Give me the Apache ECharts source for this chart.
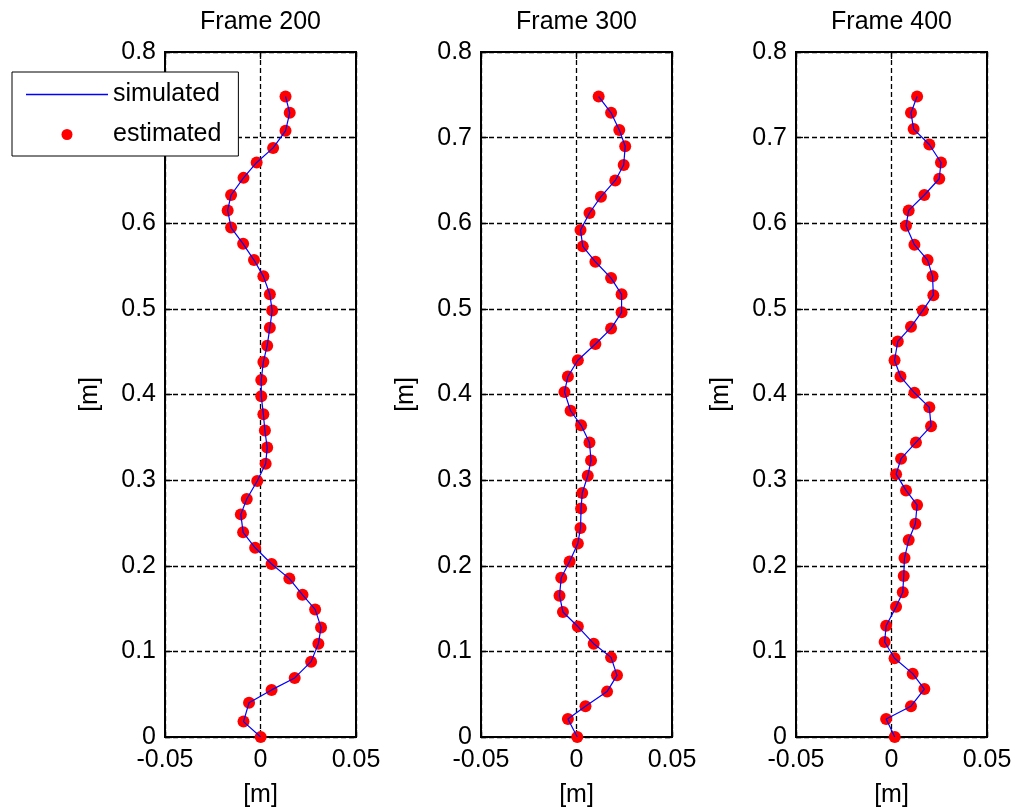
<!DOCTYPE html>
<html>
<head>
<meta charset="utf-8">
<script src="https://cdn.jsdelivr.net/npm/echarts@6/dist/echarts.min.js"></script>
<style>
html,body{margin:0;padding:0;background:#fff;}
#chart{width:1015px;height:808px;}
</style>
</head>
<body>
<div id="chart"></div>
<script>
const frameTitles = ['Frame 200', 'Frame 300', 'Frame 400'];
const seriesNames = ['simulated', 'estimated'];
const axisUnit = '[m]';

const f200x = [0.0131,0.0153,0.0131,0.0066,-0.002,-0.0089,-0.0154,-0.0172,-0.0154,-0.0091,-0.0034,0.0015,0.0049,0.0061,0.0049,0.0035,0.0015,0.0004,0.0004,0.0015,0.0023,0.0035,0.0027,-0.0017,-0.0072,-0.0103,-0.0091,-0.0028,0.0058,0.0151,0.022,0.0286,0.0317,0.0303,0.0265,0.0179,0.0058,-0.006,-0.0089,0.0001];
const f200y = [0.748,0.729,0.708,0.688,0.671,0.653,0.633,0.615,0.595,0.576,0.557,0.538,0.517,0.498,0.478,0.457,0.438,0.417,0.398,0.377,0.358,0.338,0.319,0.299,0.278,0.260,0.239,0.221,0.202,0.185,0.166,0.149,0.128,0.109,0.088,0.069,0.055,0.040,0.018,0.000];

const f300x = [0.0116,0.0181,0.0224,0.0255,0.0247,0.0203,0.0128,0.0068,0.0021,0.0033,0.0099,0.0181,0.0236,0.0236,0.0181,0.0099,0.0007,-0.0045,-0.0063,-0.0031,0.0024,0.0068,0.0076,0.0059,0.003,0.0024,0.0021,0.0007,-0.0036,-0.008,-0.0089,-0.0071,0.0007,0.009,0.0181,0.0212,0.016,0.0047,-0.0045,0.0004];
const f300y = [0.748,0.729,0.709,0.690,0.668,0.650,0.631,0.612,0.592,0.573,0.555,0.536,0.517,0.496,0.477,0.459,0.440,0.421,0.403,0.381,0.364,0.344,0.323,0.305,0.285,0.267,0.244,0.226,0.205,0.186,0.165,0.146,0.129,0.109,0.093,0.072,0.053,0.036,0.021,0.000];

const f400x = [0.0134,0.0102,0.0116,0.0198,0.0259,0.025,0.0172,0.009,0.0076,0.012,0.0189,0.0215,0.0219,0.0163,0.0102,0.0033,0.0016,0.0047,0.012,0.0198,0.0207,0.0128,0.005,0.0024,0.0076,0.0134,0.0125,0.009,0.0068,0.0064,0.0059,0.0024,-0.0028,-0.0036,0.0016,0.0111,0.0172,0.0102,-0.0028,0.0017];
const f400y = [0.748,0.729,0.710,0.692,0.671,0.652,0.633,0.615,0.597,0.575,0.557,0.538,0.516,0.498,0.479,0.462,0.440,0.421,0.402,0.385,0.363,0.344,0.325,0.307,0.288,0.271,0.249,0.230,0.209,0.188,0.169,0.152,0.130,0.111,0.092,0.074,0.056,0.036,0.021,0.000];

const xTicks = [-0.05, 0, 0.05];
const yTicks = [0, 0.1, 0.2, 0.3, 0.4, 0.5, 0.6, 0.7, 0.8];

const frames = [[f200x, f200y], [f300x, f300y], [f400x, f400y]];

const FONT = "'Liberation Sans', Arial, sans-serif";
const FS = 25;
const gridLefts = [165, 481, 796];
const gridW = 191, gridTop = 52, gridH = 685;
const TICK = {show: true, inside: true, length: 7, lineStyle: {color: '#000', width: 1.3}};
const DASH = {show: true, lineStyle: {color: '#000', type: [5, 3], width: 1.3}};

const grids = [], xAxes = [], yAxes = [], series = [], titles = [];
frames.forEach((fr, i) => {
  grids.push({left: gridLefts[i], top: gridTop, width: gridW, height: gridH,
    outerBoundsMode: 'none', containLabel: false,
    show: true, borderColor: '#000', borderWidth: 2, backgroundColor: '#fff'});
  titles.push({text: frameTitles[i], left: gridLefts[i] + gridW / 2, top: 10, textAlign: 'center', padding: 0,
    textStyle: {fontFamily: FONT, fontSize: FS, fontWeight: 'normal', color: '#000'}});
  const xBase = {type: 'value', gridIndex: i, min: xTicks[0], max: xTicks[xTicks.length - 1], interval: 0.05};
  const yBase = {type: 'value', gridIndex: i, min: yTicks[0], max: yTicks[yTicks.length - 1], interval: 0.1};
  xAxes.push(Object.assign({}, xBase, {position: 'bottom',
    name: axisUnit, nameLocation: 'middle', nameGap: 46,
    nameTextStyle: {fontFamily: FONT, fontSize: FS, color: '#000'},
    axisLine: {show: false, onZero: false},
    axisTick: TICK,
    axisLabel: {fontFamily: FONT, fontSize: FS, color: '#000', margin: 11,
      formatter: v => String(+v.toFixed(2))},
    splitLine: DASH}));
  xAxes.push(Object.assign({}, xBase, {position: 'top',
    axisLine: {show: false, onZero: false}, axisTick: TICK,
    axisLabel: {show: false}, splitLine: {show: false}}));
  yAxes.push(Object.assign({}, yBase, {position: 'left',
    name: axisUnit, nameLocation: 'middle', nameGap: 62, nameRotate: 90,
    nameTextStyle: {fontFamily: FONT, fontSize: FS, color: '#000'},
    axisLine: {show: false, onZero: false},
    axisTick: TICK,
    axisLabel: {fontFamily: FONT, fontSize: FS, color: '#000', margin: 9,
      formatter: v => String(+v.toFixed(1))},
    splitLine: DASH}));
  yAxes.push(Object.assign({}, yBase, {position: 'right',
    axisLine: {show: false, onZero: false}, axisTick: TICK,
    axisLabel: {show: false}, splitLine: {show: false}}));
  const pts = fr[0].map((x, k) => [x, fr[1][k]]);
  series.push({name: seriesNames[1], type: 'scatter', xAxisIndex: 2 * i, yAxisIndex: 2 * i,
    data: pts, symbol: 'circle', symbolSize: 12, itemStyle: {color: '#ff0000', opacity: 1}, z: 2, silent: true});
  series.push({name: seriesNames[0], type: 'line', xAxisIndex: 2 * i, yAxisIndex: 2 * i,
    data: pts, symbol: 'none', showSymbol: false, lineStyle: {color: '#0000ff', width: 1.2},
    itemStyle: {color: '#0000ff'}, z: 3, silent: true, animation: false});
});

const option = {
  animation: false,
  backgroundColor: '#fff',
  title: titles,
  grid: grids,
  xAxis: xAxes,
  yAxis: yAxes,
  legend: {
    data: [
      {name: seriesNames[0], icon: 'path://M0,0H82V1.3H0Z', itemStyle: {color: '#0000ff'}},
      {name: seriesNames[1], icon: 'circle', itemStyle: {color: '#ff0000'}}
    ],
    orient: 'vertical', left: 12, top: 72,
    itemWidth: 82, itemHeight: 11, itemGap: 15,
    padding: [10, 17, 9, 14],
    backgroundColor: '#fff', borderColor: '#000', borderWidth: 1,
    textStyle: {fontFamily: FONT, fontSize: FS, color: '#000'},
    selectedMode: false, z: 10
  },
  series: series
};

const chart = echarts.init(document.getElementById('chart'), null, {renderer: 'canvas'});
chart.setOption(option);
</script>
</body>
</html>
